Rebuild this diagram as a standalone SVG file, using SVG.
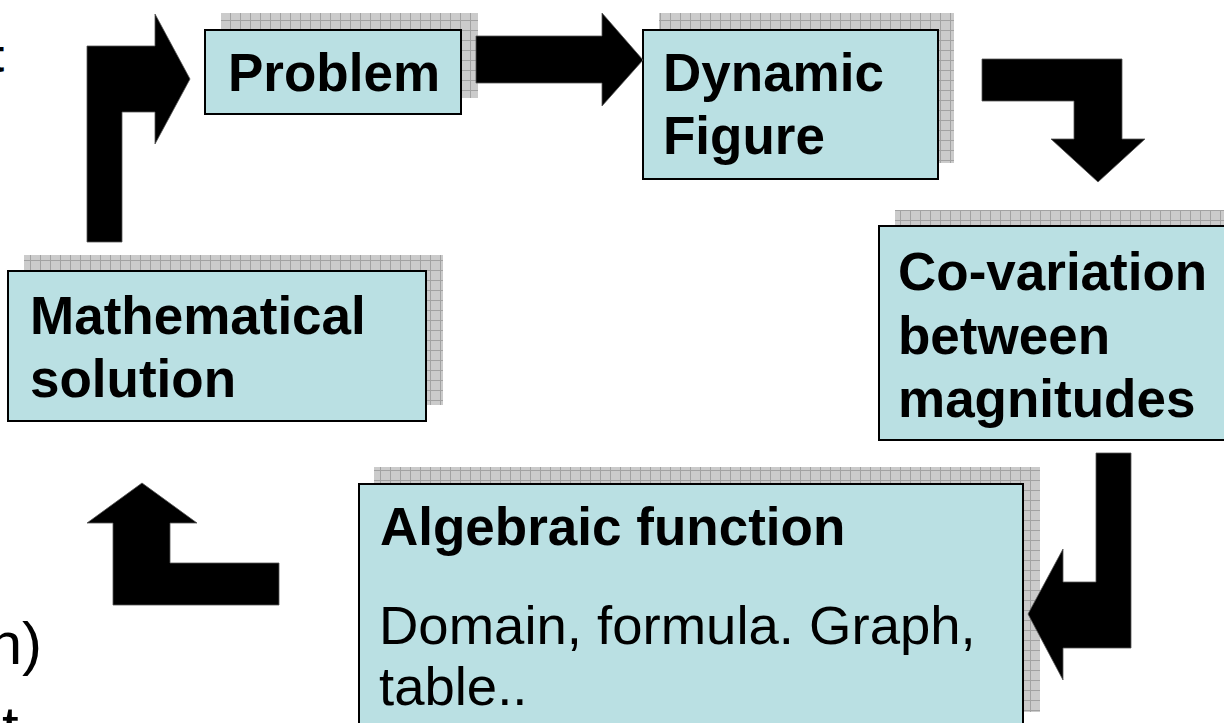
<svg xmlns="http://www.w3.org/2000/svg" width="1224" height="723" viewBox="0 0 1224 723">
<defs>
<pattern id="grid" x="0" y="0" width="10" height="10" patternUnits="userSpaceOnUse">
<rect width="10" height="10" fill="#cbcbcb"/>
<path d="M0 0.5H10M0.5 0V10" stroke="#a2a2a2" stroke-width="1"/>
</pattern>
</defs>
<style>
.shadow{fill:url(#grid);stroke:none}
.box{fill:#bae0e3;stroke:#000;stroke-width:2}
.bold{font-family:"Liberation Sans",Arial,sans-serif;font-weight:bold;font-size:53px;fill:#000}
.reg{font-family:"Liberation Sans",Arial,sans-serif;font-size:54.5px;fill:#000}
.edge{font-family:"Liberation Sans",Arial,sans-serif;fill:#000}
.arrow{fill:#000;stroke:#555;stroke-width:0.8}
</style>
<rect width="1224" height="723" fill="#fff"/>
<text class="edge" x="-11" y="72" font-size="46" font-weight="bold">t</text>
<text class="edge" x="42" y="664" font-size="60" text-anchor="end">h)</text>
<text class="edge" x="2" y="748" font-size="60">t</text>
<g id="node-problem">
<rect class="shadow" x="221" y="13" width="257" height="85"/>
<rect class="box" x="205" y="30" width="256" height="84"/>
<text class="bold" x="228" y="91">Problem</text>
</g>
<g id="node-dynamic">
<rect class="shadow" x="659" y="13" width="295" height="150"/>
<rect class="box" x="643" y="30" width="295" height="149"/>
<text class="bold" x="663" y="91">Dynamic</text>
<text class="bold" x="663" y="154">Figure</text>
</g>
<g id="node-covariation">
<rect class="shadow" x="895" y="210" width="340" height="214"/>
<rect class="box" x="879" y="226" width="350" height="214"/>
<text class="bold" x="898" y="290">Co-variation</text>
<text class="bold" x="898" y="354">between</text>
<text class="bold" x="898" y="417">magnitudes</text>
</g>
<g id="node-mathematical">
<rect class="shadow" x="24" y="255" width="419" height="150"/>
<rect class="box" x="8" y="271" width="418" height="150"/>
<text class="bold" x="30" y="334">Mathematical</text>
<text class="bold" x="30" y="397">solution</text>
</g>
<g id="node-algebraic">
<rect class="shadow" x="374" y="467" width="666" height="245"/>
<rect class="box" x="359" y="484" width="664" height="250"/>
<text class="bold" x="380" y="545">Algebraic function</text>
<text class="reg" x="379" y="644">Domain, formula. Graph,</text>
<text class="reg" x="379" y="705">table..</text>
</g>
<g id="connectors">
<path class="arrow" d="M87 242V46H155V14L190 79L155 144V112H122V242Z"/>
<path class="arrow" d="M476 36H602V13L643 60L602 106V83H476Z"/>
<path class="arrow" d="M982 59H1122V139H1145L1098 182L1051 139H1074V101H982Z"/>
<path class="arrow" d="M1096 453H1131V648H1063V680L1028 614L1063 549V582H1096Z"/>
<path class="arrow" d="M279 563V605H113V523H87L142 483L197 523H170V563Z"/>
</g>
</svg>
